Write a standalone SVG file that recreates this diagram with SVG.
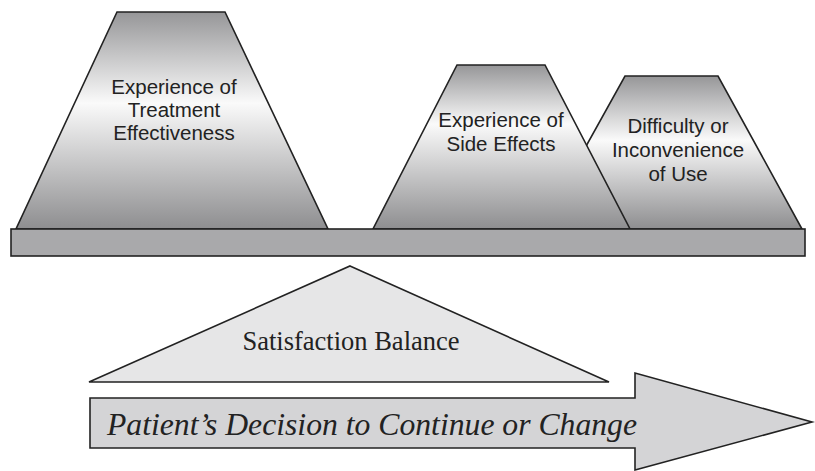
<svg xmlns="http://www.w3.org/2000/svg" width="815" height="471" viewBox="0 0 815 471">
<defs>
<linearGradient id="g1" x1="0" y1="0" x2="0" y2="1">
<stop offset="0" stop-color="#969698"/>
<stop offset="0.42" stop-color="#fafafa"/>
<stop offset="1" stop-color="#8e8e90"/>
</linearGradient>
<linearGradient id="g2" x1="0" y1="0" x2="0" y2="1">
<stop offset="0" stop-color="#969698"/>
<stop offset="0.36" stop-color="#fafafa"/>
<stop offset="1" stop-color="#8e8e90"/>
</linearGradient>
<linearGradient id="g3" x1="0" y1="0" x2="0" y2="1">
<stop offset="0" stop-color="#969698"/>
<stop offset="0.42" stop-color="#fafafa"/>
<stop offset="1" stop-color="#8e8e90"/>
</linearGradient>
</defs>
<style>
.sh{stroke:#222;stroke-width:1.6;stroke-linejoin:miter}
.lbl{font-family:"Liberation Sans",Arial,sans-serif;font-size:20.5px;fill:#222;text-anchor:middle}
.ser{font-family:"Liberation Serif","Times New Roman",serif;fill:#222}
</style>
<g id="right-trapezoid">
<polygon class="sh" points="625,76 718,76 802,229 540,229" fill="url(#g3)"/>
<text class="lbl" x="678" y="133">Difficulty or</text>
<text class="lbl" x="678" y="157">Inconvenience</text>
<text class="lbl" x="678" y="181">of Use</text>
</g>
<g id="middle-trapezoid">
<polygon class="sh" points="457,65 545,65 630,229 373,229" fill="url(#g2)"/>
<text class="lbl" x="501" y="127">Experience of</text>
<text class="lbl" x="501" y="151">Side Effects</text>
</g>
<g id="left-trapezoid">
<polygon class="sh" points="117,12 225,12 328,229 16,229" fill="url(#g1)"/>
<text class="lbl" x="174" y="94">Experience of</text>
<text class="lbl" x="174" y="117">Treatment</text>
<text class="lbl" x="174" y="140">Effectiveness</text>
</g>
<g id="base-bar">
<rect class="sh" x="11" y="229" width="794" height="27" fill="#a9a9ab"/>
</g>
<g id="satisfaction-balance">
<polygon class="sh" points="350,266 609,382 89,382" fill="#e6e6e7"/>
<text class="ser" x="351" y="350" font-size="26.5" text-anchor="middle">Satisfaction Balance</text>
</g>
<g id="decision-arrow">
<polygon class="sh" points="90,398 635,398 635,373 812,422 635,470 635,448 90,448" fill="#d4d4d6"/>
<text class="ser" x="107" y="435" font-size="32" font-style="italic" textLength="530" lengthAdjust="spacingAndGlyphs">Patient’s Decision to Continue or Change</text>
</g>
<g id="connectors"></g>
</svg>
